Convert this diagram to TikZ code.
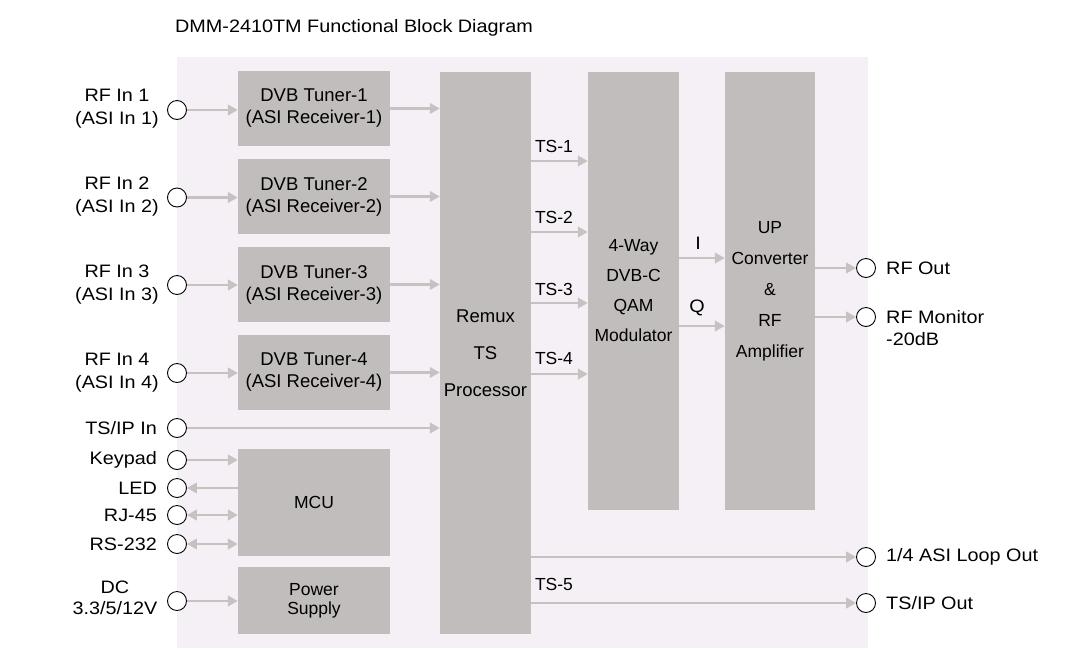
\documentclass[tikz,border=0pt]{standalone}
\usepackage{fontspec}
\setmainfont[FakeStretch=1.1]{Liberation Sans}
\newfontfamily\plainsans{Liberation Sans}
\usetikzlibrary{arrows.meta}
\definecolor{panel}{HTML}{F5F0F6}
\definecolor{boxg}{HTML}{C1BDBC}
\definecolor{arrg}{HTML}{C6C2C2}
\begin{document}
\begin{tikzpicture}[x=1pt,y=-1pt,
  box/.style={fill=boxg, draw=none, inner sep=0pt, align=center, font=\plainsans\fontsize{18.5}{22}\selectfont},
  port/.style={circle, draw=black, fill=white, line width=0.9pt, minimum size=19pt, inner sep=0pt},
  lbl/.style={inner sep=0pt, font=\fontsize{18}{23}\selectfont, align=center},
  tslbl/.style={inner sep=0pt, font=\plainsans\fontsize{17.5}{20}\selectfont},
  arr/.style={draw=arrg, line width=2.8pt, -{Triangle[length=10pt,width=10.5pt]}},
  barr/.style={draw=arrg, line width=2.8pt, {Triangle[length=10pt,width=10.5pt]}-{Triangle[length=10pt,width=10.5pt]}},
]
\useasboundingbox (0,0) rectangle (1075,654);
\fill[panel] (177,57) rectangle (868,648);

\node[lbl, anchor=west, font=\fontsize{18}{22}\selectfont] (title) at (175,28) {DMM-2410TM Functional Block Diagram};

% blocks
\node[box, minimum width=152pt, minimum height=75pt] (t1) at (314,108.5) {DVB Tuner-1\\(ASI Receiver-1)};
\node[box, minimum width=152pt, minimum height=75pt] (t2) at (314,196.5) {DVB Tuner-2\\(ASI Receiver-2)};
\node[box, minimum width=152pt, minimum height=75pt] (t3) at (314,284.5) {DVB Tuner-3\\(ASI Receiver-3)};
\node[box, minimum width=152pt, minimum height=75pt] (t4) at (314,372.5) {DVB Tuner-4\\(ASI Receiver-4)};
\node[box, minimum width=152pt, minimum height=107pt, font=\plainsans\fontsize{17.5}{20}\selectfont] (mcu) at (314,502.5) {MCU};
\node[box, minimum width=152pt, minimum height=67pt, font=\plainsans\fontsize{17.5}{19}\selectfont] (pwr) at (314,600.5) {Power\\Supply};
\node[box, minimum width=91pt, minimum height=562pt, font=\plainsans\fontsize{18.5}{37}\selectfont] (remux) at (485.5,353) {Remux\\TS\\Processor};
\node[box, minimum width=91pt, minimum height=438pt, font=\plainsans\fontsize{17.5}{30}\selectfont] (mod) at (633.5,291) {4-Way\\DVB-C\\QAM\\Modulator};
\node[box, minimum width=90pt, minimum height=438pt, font=\plainsans\fontsize{17.5}{31}\selectfont] (up) at (770,291) {UP\\Converter\\\&\\RF\\Amplifier};

% left ports
\node[port] (p1) at (177,110) {};
\node[port] (p2) at (177,197.5) {};
\node[port] (p3) at (177,285) {};
\node[port] (p4) at (177,373) {};
\node[port] (pts) at (177,428) {};
\node[port] (pkey) at (177,460) {};
\node[port] (pled) at (177,488) {};
\node[port] (prj) at (177,515) {};
\node[port] (prs) at (177,544) {};
\node[port] (pdc) at (177,601) {};

% right ports
\node[port] (rfo) at (866,268) {};
\node[port] (rfm) at (866,317) {};
\node[port] (plo) at (866,557) {};
\node[port] (pto) at (866,603) {};

% left labels
\node[lbl] (l1) at (117,109) {RF In 1\\(ASI In 1)};
\node[lbl] (l2) at (117,197) {RF In 2\\(ASI In 2)};
\node[lbl] (l3) at (117,285) {RF In 3\\(ASI In 3)};
\node[lbl] (l4) at (117,373) {RF In 4\\(ASI In 4)};
\node[lbl, anchor=east] (lts) at (157,428) {TS/IP In};
\node[lbl, anchor=east] (lkey) at (157,460) {Keypad};
\node[lbl, anchor=east] (lled) at (157,488) {LED};
\node[lbl, anchor=east] (lrj) at (157,515) {RJ-45};
\node[lbl, anchor=east] (lrs) at (157,544) {RS-232};
\node[lbl, font=\fontsize{18}{21}\selectfont] (ldc) at (115,598) {DC\\3.3/5/12V};

% right labels
\node[lbl, anchor=west] (lrfo) at (886,268) {RF Out};
\node[lbl, anchor=west, align=left, font=\fontsize{18}{22}\selectfont] (lrfm) at (886,328) {RF Monitor\\-20dB};
\node[lbl, anchor=west] (llo) at (886,557) {1/4 ASI Loop Out};
\node[lbl, anchor=west] (lto) at (886,603) {TS/IP Out};

% connector rows
\coordinate (y1) at (0,161);
\coordinate (y2) at (0,232);
\coordinate (y3) at (0,303);
\coordinate (y4) at (0,374);
\coordinate (yI) at (0,258);
\coordinate (yQ) at (0,326);

% arrows
\draw[arr] (p1.east) -- (p1.east -| t1.west);
\draw[arr] (p2.east) -- (p2.east -| t2.west);
\draw[arr] (p3.east) -- (p3.east -| t3.west);
\draw[arr] (p4.east) -- (p4.east -| t4.west);
\draw[arr] (t1.east) -- (t1.east -| remux.west);
\draw[arr] (t2.east) -- (t2.east -| remux.west);
\draw[arr] (t3.east) -- (t3.east -| remux.west);
\draw[arr] (t4.east) -- (t4.east -| remux.west);
\draw[arr] (pts.east) -- (pts.east -| remux.west);
\draw[arr] (pkey.east) -- (pkey.east -| mcu.west);
\draw[arr] (pled.east -| mcu.west) -- (pled.east);
\draw[barr] (prj.east) -- (prj.east -| mcu.west);
\draw[barr] (prs.east) -- (prs.east -| mcu.west);
\draw[arr] (pdc.east) -- (pdc.east -| pwr.west);

\draw[arr] (remux.east |- y1) -- (mod.west |- y1);
\draw[arr] (remux.east |- y2) -- (mod.west |- y2);
\draw[arr] (remux.east |- y3) -- (mod.west |- y3);
\draw[arr] (remux.east |- y4) -- (mod.west |- y4);
\draw[arr] (mod.east |- yI) -- (up.west |- yI);
\draw[arr] (mod.east |- yQ) -- (up.west |- yQ);
\draw[arr] (up.east |- rfo) -- (rfo.west);
\draw[arr] (up.east |- rfm) -- (rfm.west);
\draw[arr] (remux.east |- plo) -- (plo.west);
\draw[arr] (remux.east |- pto) -- (pto.west);

% connector labels
\node[tslbl] (ts1) at (554,146) {TS-1};
\node[tslbl] (ts2) at (554,217) {TS-2};
\node[tslbl] (ts3) at (554,289) {TS-3};
\node[tslbl] (ts4) at (554,358) {TS-4};
\node[tslbl] (ts5) at (554,584) {TS-5};
\node[lbl] (lI) at (698,243) {I};
\node[lbl] (lQ) at (697,308) {Q};
\end{tikzpicture}
\end{document}
